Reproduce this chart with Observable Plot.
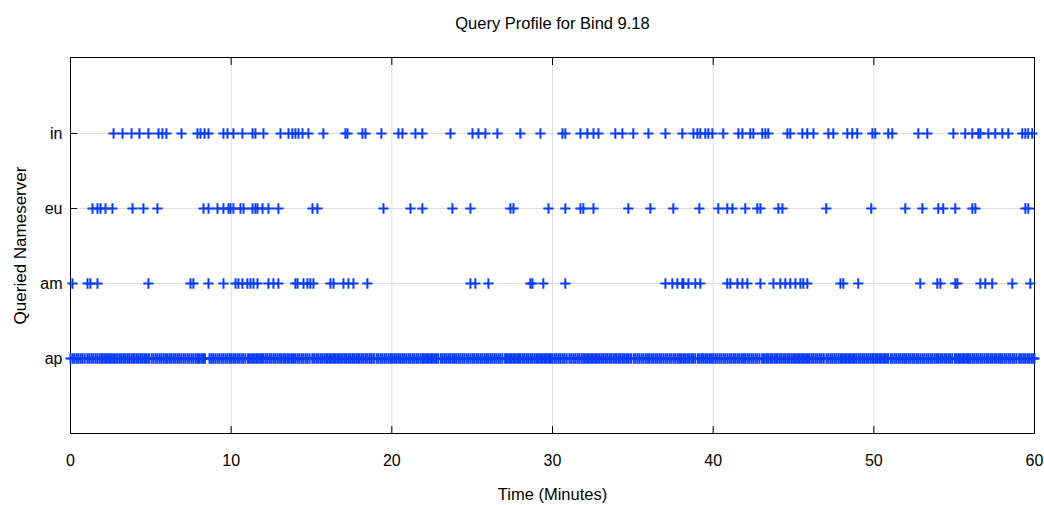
<!DOCTYPE html>
<html>
<head>
<meta charset="utf-8">
<script src="https://cdn.jsdelivr.net/npm/d3@7"></script>
<script src="https://cdn.jsdelivr.net/npm/@observablehq/plot@0.6"></script>
<style>
  html, body { margin: 0; padding: 0; background: white; }
</style>
</head>
<body>
<div id="chart"></div>
<script>
// Query times (minutes) per queried nameserver
const inTimes = [2.68,3.24,3.80,4.29,4.85,5.48,5.72,5.97,6.91,7.90,8.09,8.34,8.59,9.52,9.77,10.14,10.70,11.33,11.51,12.01,13.07,13.57,13.81,14.00,14.19,14.44,14.81,15.74,17.11,17.24,18.17,18.36,19.35,20.41,20.66,21.47,21.90,23.65,25.02,25.39,25.82,26.57,28.00,29.25,30.62,30.80,31.74,32.17,32.55,32.86,33.91,34.35,35.03,35.97,37.03,38.08,38.77,39.02,39.20,39.51,39.70,39.95,40.63,41.57,41.82,42.31,42.50,43.06,43.25,43.43,44.62,44.80,45.55,45.86,46.24,47.17,47.48,48.35,48.66,48.97,49.91,50.09,50.90,51.15,52.77,53.33,54.95,55.69,56.13,56.50,56.63,57.13,57.56,58.00,58.37,59.24,59.43,59.61,59.86];
const euTimes = [1.37,1.68,1.87,2.18,2.61,3.86,4.54,5.41,8.28,8.59,9.15,9.52,9.83,9.96,10.14,10.58,10.77,11.33,11.51,11.64,11.95,12.32,12.94,15.06,15.37,19.48,21.16,21.90,23.77,24.89,27.38,27.57,29.75,30.80,31.74,31.92,32.55,34.72,36.09,37.52,39.14,40.32,40.88,41.20,42.00,42.75,42.94,44.06,44.31,47.04,49.84,51.96,53.02,54.01,54.32,55.07,56.13,56.32,59.43,59.61];
const amTimes = [0.12,1.06,1.24,1.68,4.85,7.47,7.65,8.59,9.52,10.27,10.45,10.70,11.01,11.20,11.39,11.64,12.32,12.63,12.94,14.00,14.13,14.50,14.75,14.93,15.12,16.18,16.37,16.99,17.30,17.61,18.48,24.89,25.20,26.01,28.62,28.75,29.43,30.80,37.03,37.46,37.77,38.08,38.15,38.46,38.89,39.20,40.88,41.07,41.51,41.82,42.13,42.94,43.75,44.18,44.49,44.80,45.12,45.43,45.61,45.86,47.92,48.10,49.03,52.89,53.95,54.14,55.07,55.20,56.63,56.94,57.37,58.62,59.74];
// "ap" is queried almost continuously: times in seconds
const apSeconds = [0,8,15,23,30,38,45,53,63,70,78,85,93,100,108,115,121,129,136,144,151,159,166,174,182,189,197,204,212,219,227,234,240,248,255,263,270,278,285,293,303,310,318,325,333,340,348,355,361,369,376,384,391,399,406,414,422,429,437,444,452,459,467,474,480,488,495,502,519,526,533,541,549,556,564,571,579,586,594,600,608,615,623,630,638,645,653,663,670,678,685,693,700,708,715,721,729,736,744,751,759,766,774,782,789,797,804,812,819,827,834,840,848,855,863,870,878,885,893,903,910,918,925,933,940,948,955,961,969,976,984,991,999,1006,1014,1022,1029,1037,1044,1052,1059,1067,1074,1080,1088,1095,1103,1110,1118,1125,1133,1143,1150,1158,1165,1173,1180,1188,1195,1201,1209,1216,1224,1231,1239,1246,1254,1262,1269,1277,1284,1292,1299,1307,1314,1320,1328,1335,1343,1350,1358,1365,1373,1383,1390,1398,1405,1413,1420,1428,1435,1441,1449,1456,1464,1471,1479,1486,1494,1502,1509,1517,1524,1532,1539,1547,1554,1560,1568,1575,1583,1590,1598,1605,1613,1623,1630,1638,1645,1653,1660,1668,1675,1681,1689,1696,1704,1711,1719,1726,1734,1742,1749,1757,1764,1772,1779,1787,1794,1800,1808,1815,1823,1830,1838,1845,1853,1863,1870,1878,1885,1893,1900,1908,1915,1921,1929,1936,1944,1951,1959,1966,1974,1982,1989,1997,2004,2012,2019,2027,2034,2040,2048,2055,2063,2070,2078,2085,2093,2103,2110,2118,2125,2133,2140,2148,2155,2161,2169,2176,2184,2191,2199,2206,2214,2222,2229,2237,2244,2252,2259,2267,2274,2280,2288,2295,2303,2310,2318,2325,2333,2343,2350,2358,2365,2373,2380,2388,2395,2401,2409,2416,2424,2431,2439,2446,2454,2462,2469,2477,2484,2492,2499,2507,2514,2520,2528,2535,2543,2550,2558,2565,2573,2583,2590,2598,2605,2613,2620,2628,2635,2641,2649,2656,2664,2671,2679,2686,2694,2702,2709,2717,2724,2732,2739,2747,2754,2760,2768,2775,2783,2790,2798,2805,2813,2823,2830,2838,2845,2853,2860,2868,2875,2881,2889,2896,2904,2911,2919,2926,2934,2942,2949,2957,2964,2972,2979,2987,2994,3000,3008,3015,3023,3030,3038,3045,3053,3063,3070,3078,3085,3093,3100,3108,3115,3121,3129,3136,3144,3151,3159,3166,3174,3182,3189,3197,3204,3212,3219,3227,3234,3240,3248,3255,3263,3270,3278,3285,3293,3303,3310,3318,3325,3333,3340,3348,3355,3361,3369,3376,3384,3391,3399,3406,3414,3422,3429,3437,3444,3452,3459,3467,3474,3480,3488,3495,3503,3510,3518,3525,3533,3543,3550,3558,3565,3573,3580,3588,3595,3600];

const servers = ["in", "eu", "am", "ap"];
const xTicks = [0, 10, 20, 30, 40, 50, 60];
const titleText = "Query Profile for Bind 9.18";
const xLabel = "Time (Minutes)";
const yLabel = "Queried Nameserver";

const data = [
  ...inTimes.map(t => ({t, q: "in"})),
  ...euTimes.map(t => ({t, q: "eu"})),
  ...amTimes.map(t => ({t, q: "am"})),
  ...apSeconds.map(s => ({t: s / 60, q: "ap"}))
];

const blue = "#0a3cff";
const gridColor = "#dedede";

const chart = Plot.plot({
  width: 1044,
  height: 505,
  marginLeft: 70,
  marginRight: 10,
  marginTop: 57,
  marginBottom: 72,
  style: {fontFamily: "'Liberation Sans', Arial, sans-serif", fontSize: "16px", color: "black", background: "white"},
  x: {domain: [0, 60]},
  y: {type: "point", domain: servers, padding: 1},
  marks: [
    Plot.gridX(xTicks, {stroke: gridColor, strokeOpacity: 1}),
    Plot.gridY(servers, {stroke: gridColor, strokeOpacity: 1}),
    Plot.frame({stroke: "black", strokeWidth: 1}),
    Plot.axisX(xTicks, {anchor: "bottom", tickSize: -7, tickPadding: 28, label: null, fontSize: 16}),
    Plot.axisX(xTicks, {anchor: "top", tickSize: -7, tickFormat: () => "", label: null}),
    Plot.axisY(servers, {anchor: "left", tickSize: -7, tickPadding: 15, label: null, fontSize: 16}),
    Plot.axisY(servers, {anchor: "right", tickSize: -7, tickFormat: () => "", label: null}),
    Plot.dot(data, {x: "t", y: "q", symbol: "plus", r: 3.4, stroke: blue, strokeWidth: 2}),
    Plot.text([titleText], {text: d => d, frameAnchor: "top", dy: -40, fontSize: 16.5}),
    Plot.text([xLabel], {text: d => d, frameAnchor: "bottom", dy: 66, fontSize: 16.5}),
    Plot.text([yLabel], {text: d => d, frameAnchor: "left", textAnchor: "middle", dx: -50, rotate: -90, fontSize: 17})
  ]
});
document.getElementById("chart").appendChild(chart);
</script>
</body>
</html>
